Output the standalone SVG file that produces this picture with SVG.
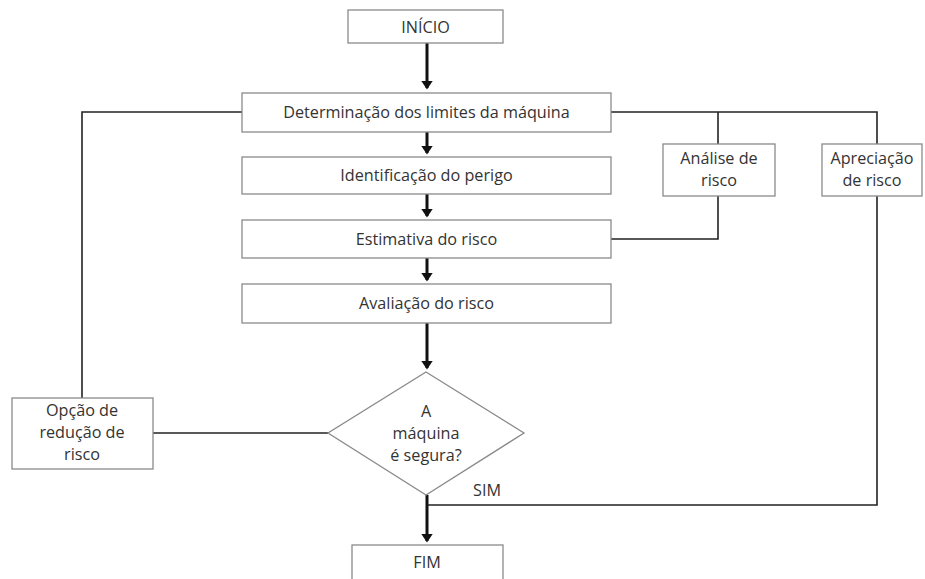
<svg xmlns="http://www.w3.org/2000/svg" width="925" height="579" viewBox="0 0 925 579">
<style>
.box{fill:#fff;stroke:#8a8a8a;stroke-width:1.3}
.t{font-family:"Open Sans","Liberation Sans",sans-serif;font-size:16.2px;fill:#333;text-anchor:middle}
.main{stroke:#111;stroke-width:3;fill:none}
.side{stroke:#222;stroke-width:1.6;fill:none}
</style>
<defs>
<marker id="ah" markerWidth="4" markerHeight="4" refX="2.5" refY="2" orient="auto" markerUnits="strokeWidth">
<path d="M0,0 L3,2 L0,4 z" fill="#111"/>
</marker>
</defs>
<rect width="925" height="579" fill="#fff"/>
<g id="connectors">
<line class="main" x1="427" y1="43" x2="427" y2="88" marker-end="url(#ah)"/>
<line class="main" x1="427" y1="132" x2="427" y2="153" marker-end="url(#ah)"/>
<line class="main" x1="427" y1="194" x2="427" y2="216" marker-end="url(#ah)"/>
<line class="main" x1="427" y1="258" x2="427" y2="280" marker-end="url(#ah)"/>
<line class="main" x1="427" y1="323" x2="427" y2="368" marker-end="url(#ah)"/>
<line class="main" x1="427" y1="495" x2="427" y2="541" marker-end="url(#ah)"/>
<polyline class="side" points="242,112 82,112 82,398"/>
<line class="side" x1="153" y1="433" x2="328" y2="433"/>
<polyline class="side" points="611,112 877,112 877,144"/>
<line class="side" x1="718" y1="112" x2="718" y2="144"/>
<polyline class="side" points="718,196 718,239 611,239"/>
<polyline class="side" points="877,196 877,505 428,505"/>
</g>
<g id="inicio"><rect class="box" x="348" y="10" width="155" height="33"/><text class="t" x="425.5" y="32.5">INÍCIO</text></g>
<g id="determinacao"><rect class="box" x="242" y="93" width="369" height="39"/><text class="t" x="426.5" y="118">Determinação dos limites da máquina</text></g>
<g id="identificacao"><rect class="box" x="242" y="157" width="369" height="37"/><text class="t" x="426.5" y="181">Identificação do perigo</text></g>
<g id="estimativa"><rect class="box" x="242" y="220" width="369" height="38"/><text class="t" x="426.5" y="244.5">Estimativa do risco</text></g>
<g id="avaliacao"><rect class="box" x="242" y="284" width="369" height="39"/><text class="t" x="426.5" y="309">Avaliação do risco</text></g>
<g id="analise"><rect class="box" x="663" y="144" width="112" height="52"/><text class="t" x="719" y="164">Análise de</text><text class="t" x="719" y="186">risco</text></g>
<g id="apreciacao"><rect class="box" x="822" y="144" width="100" height="52"/><text class="t" x="872" y="164">Apreciação</text><text class="t" x="872" y="186">de risco</text></g>
<g id="decisao"><polygon class="box" points="426,372 524,433 426,495 328,433"/><text class="t" x="426" y="417">A</text><text class="t" x="426" y="439">máquina</text><text class="t" x="426" y="461">é segura?</text></g>
<g id="opcao"><rect class="box" x="12" y="398" width="141" height="71"/><text class="t" x="82" y="416">Opção de</text><text class="t" x="82" y="438">redução de</text><text class="t" x="82" y="460">risco</text></g>
<g id="sim-label"><text class="t" x="487" y="496">SIM</text></g>
<g id="fim"><rect class="box" x="352" y="545" width="151" height="40"/><text class="t" x="427" y="568">FIM</text></g>
</svg>
